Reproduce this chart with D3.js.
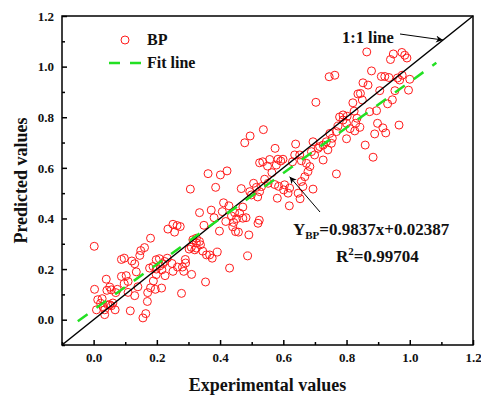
<!DOCTYPE html>
<html>
<head>
<meta charset="utf-8">
<script src="https://cdn.jsdelivr.net/npm/d3@7"></script>
<style>
  body { margin: 0; background: #fff; }
  text { font-family: "Liberation Serif", "DejaVu Serif", serif; font-weight: bold; fill: #111; }
</style>
</head>
<body>
<div id="chart"></div>
<script>
// experimental (x) and predicted (y) values for the BP model
const experimental = [
  0.002, 0.003, 0.009, 0.013, 0.027, 0.022, 0.029, 0.035, 0.035, 0.04,
  0.042, 0.045, 0.051, 0.056, 0.056, 0.061, 0.051, 0.07, 0.075, 0.068,
  0.088, 0.088, 0.097, 0.103, 0.097, 0.109, 0.109, 0.116, 0.121, 0.13,
  0.135, 0.13, 0.14, 0.146, 0.149, 0.161, 0.156, 0.165, 0.17, 0.171,
  0.18, 0.189, 0.195, 0.18, 0.177, 0.188, 0.198, 0.198, 0.208, 0.198,
  0.21, 0.215, 0.216, 0.219, 0.226, 0.225, 0.233, 0.248, 0.235, 0.251,
  0.264, 0.274, 0.256, 0.251, 0.265, 0.281, 0.285, 0.278, 0.29, 0.291,
  0.31, 0.306, 0.302, 0.309, 0.314, 0.325, 0.325, 0.32, 0.338, 0.345,
  0.325, 0.335, 0.357, 0.367, 0.375, 0.391, 0.354, 0.335, 0.349, 0.362,
  0.372, 0.381, 0.386, 0.401, 0.422, 0.398, 0.407, 0.411, 0.418, 0.428,
  0.436, 0.44, 0.443, 0.446, 0.452, 0.449, 0.458, 0.43, 0.467, 0.472,
  0.462, 0.472, 0.482, 0.478, 0.495, 0.491, 0.487, 0.494, 0.506, 0.515,
  0.499, 0.519, 0.525, 0.531, 0.537, 0.525, 0.535, 0.524, 0.52, 0.541,
  0.55, 0.557, 0.564, 0.552, 0.574, 0.573, 0.585, 0.581, 0.578, 0.583,
  0.599, 0.592, 0.604, 0.601, 0.62, 0.615, 0.619, 0.629, 0.636, 0.639,
  0.652, 0.657, 0.673, 0.684, 0.678, 0.668, 0.657, 0.662, 0.647, 0.653,
  0.689, 0.699, 0.694, 0.71, 0.715, 0.703, 0.694, 0.726, 0.726, 0.736,
  0.741, 0.747, 0.755, 0.752, 0.745, 0.763, 0.768, 0.768, 0.773, 0.778,
  0.789, 0.789, 0.802, 0.8, 0.811, 0.826, 0.8, 0.82, 0.836, 0.824,
  0.829, 0.833, 0.842, 0.844, 0.85, 0.852, 0.868, 0.864, 0.873, 0.895,
  0.879, 0.905, 0.91, 0.921, 0.934, 0.859, 0.884, 0.898, 0.915, 0.924,
  0.889, 0.93, 0.945, 0.953, 0.961, 0.976, 0.968, 1.0, 0.996, 0.966,
  0.948, 0.939, 0.975, 0.984, 0.991
];
const predicted = [
  0.29, 0.12, 0.039, 0.079, 0.083, 0.065, 0.052, 0.02, 0.039, 0.16,
  0.116, 0.059, 0.129, 0.118, 0.055, 0.066, 0.059, 0.107, 0.12, 0.039,
  0.171, 0.238, 0.243, 0.174, 0.142, 0.151, 0.108, 0.035, 0.232, 0.221,
  0.189, 0.095, 0.13, 0.254, 0.273, 0.285, 0.007, 0.024, 0.072, 0.107,
  0.126, 0.153, 0.12, 0.322, 0.204, 0.21, 0.2, 0.237, 0.241, 0.178,
  0.213, 0.125, 0.197, 0.221, 0.174, 0.23, 0.243, 0.222, 0.358, 0.377,
  0.372, 0.368, 0.346, 0.191, 0.208, 0.208, 0.191, 0.104, 0.238, 0.224,
  0.179, 0.516, 0.279, 0.286, 0.316, 0.303, 0.283, 0.276, 0.296, 0.271,
  0.322, 0.309, 0.256, 0.256, 0.243, 0.267, 0.149, 0.423, 0.373, 0.577,
  0.433, 0.403, 0.523, 0.572, 0.588, 0.35, 0.427, 0.462, 0.388, 0.45,
  0.41, 0.367, 0.384, 0.423, 0.399, 0.348, 0.346, 0.204, 0.518, 0.445,
  0.421, 0.401, 0.403, 0.699, 0.726, 0.335, 0.252, 0.506, 0.539, 0.523,
  0.493, 0.485, 0.506, 0.526, 0.751, 0.62, 0.624, 0.393, 0.381, 0.555,
  0.607, 0.633, 0.581, 0.539, 0.677, 0.534, 0.527, 0.48, 0.611, 0.634,
  0.634, 0.627, 0.533, 0.513, 0.52, 0.5, 0.45, 0.624, 0.651, 0.694,
  0.651, 0.628, 0.618, 0.605, 0.585, 0.565, 0.546, 0.526, 0.5, 0.478,
  0.664, 0.651, 0.703, 0.677, 0.684, 0.859, 0.516, 0.631, 0.69, 0.703,
  0.671, 0.736, 0.717, 0.697, 0.96, 0.966, 0.743, 0.576, 0.765, 0.801,
  0.809, 0.789, 0.804, 0.776, 0.755, 0.746, 0.715, 0.857, 0.892, 0.824,
  0.776, 0.796, 0.76, 0.894, 0.868, 0.936, 0.927, 1.058, 0.822, 0.826,
  0.983, 0.905, 0.961, 0.961, 0.957, 0.69, 0.642, 0.776, 0.758, 0.738,
  0.734, 0.853, 0.869, 0.905, 0.955, 0.966, 0.947, 0.95, 0.907, 0.769,
  1.05, 1.028, 1.056, 1.045, 1.034
];

// fitted line as drawn (end points) and the 1:1 reference line
const fitLine = [{ x: -0.05, y: -0.006 }, { x: 1.084, y: 1.015 }];
const identityLine = [{ x: -0.1, y: -0.1 }, { x: 1.2, y: 1.2 }];

const majorTicks = [0, 0.2, 0.4, 0.6, 0.8, 1.0, 1.2];
const minorTicks = [-0.1, 0.1, 0.3, 0.5, 0.7, 0.9, 1.1];

const width = 481;
const height = 402;
const margin = { top: 16, right: 8, bottom: 57, left: 62 };

const svg = d3
  .select("#chart")
  .append("svg")
  .attr("width", width)
  .attr("height", height);

const x = d3.scaleLinear().domain([-0.1, 1.2]).range([margin.left, width - margin.right]);
const y = d3.scaleLinear().domain([-0.1, 1.2]).range([height - margin.bottom, margin.top]);

const fmt = d3.format(".1f");

// axes, ticks point inward
svg
  .append("g")
  .attr("transform", `translate(0,${y(-0.1)})`)
  .call(d3.axisBottom(x).tickValues(majorTicks).tickSize(-5).tickPadding(8).tickFormat(fmt));
svg
  .append("g")
  .attr("transform", `translate(0,${y(-0.1)})`)
  .call(d3.axisBottom(x).tickValues(minorTicks).tickSize(-3).tickFormat(""));

svg
  .append("g")
  .attr("transform", `translate(${x(-0.1)},0)`)
  .call(d3.axisLeft(y).tickValues(majorTicks).tickSize(-5).tickPadding(8).tickFormat(fmt));
svg
  .append("g")
  .attr("transform", `translate(${x(-0.1)},0)`)
  .call(d3.axisLeft(y).tickValues(minorTicks).tickSize(-3).tickFormat(""));

svg.selectAll(".domain").remove();
svg.selectAll(".tick line").attr("stroke", "#000").attr("stroke-width", 1.5);
svg.selectAll(".tick text").style("font-size", "13px").attr("fill", "#111");

// frame
svg
  .append("rect")
  .attr("x", x(-0.1))
  .attr("y", y(1.2))
  .attr("width", x(1.2) - x(-0.1))
  .attr("height", y(-0.1) - y(1.2))
  .attr("fill", "none")
  .attr("stroke", "#000")
  .attr("stroke-width", 1.5);

const line = d3.line().x((d) => x(d.x)).y((d) => y(d.y));

// points
svg
  .append("g")
  .selectAll("circle")
  .data(d3.zip(experimental, predicted))
  .enter()
  .append("circle")
  .attr("cx", (d) => x(d[0]))
  .attr("cy", (d) => y(d[1]))
  .attr("r", 4)
  .attr("fill", "none")
  .attr("stroke", "#ff1a1a")
  .attr("stroke-width", 1);

svg
  .append("path")
  .attr("d", line(identityLine))
  .attr("fill", "none")
  .attr("stroke", "#000")
  .attr("stroke-width", 1.5);

svg
  .append("path")
  .attr("d", line(fitLine))
  .attr("fill", "none")
  .attr("stroke", "#22e022")
  .attr("stroke-width", 2.5)
  .attr("stroke-dasharray", "12,11");

// arrow marker
svg
  .append("defs")
  .append("marker")
  .attr("id", "arrow")
  .attr("viewBox", "0 0 10 10")
  .attr("refX", 10)
  .attr("refY", 5)
  .attr("markerWidth", 9)
  .attr("markerHeight", 7)
  .attr("markerUnits", "userSpaceOnUse")
  .attr("orient", "auto")
  .append("path")
  .attr("d", "M0,0L10,5L0,10L3,5Z")
  .attr("fill", "#000");

// 1:1 line label
svg
  .append("text")
  .attr("x", 342)
  .attr("y", 43)
  .style("font-size", "16.5px")
  .text("1:1 line");
svg
  .append("line")
  .attr("x1", 400)
  .attr("y1", 34)
  .attr("x2", x(1.105))
  .attr("y2", y(1.105))
  .attr("stroke", "#000")
  .attr("stroke-width", 1)
  .attr("marker-end", "url(#arrow)");

// fit equation
const eq = svg.append("text").attr("x", 293).attr("y", 235).style("font-size", "17px");
eq.append("tspan").text("Y");
eq.append("tspan").attr("dy", 4).style("font-size", "11px").text("BP");
eq.append("tspan").attr("dy", -4).text("=0.9837x+0.02387");

const r2 = svg.append("text").attr("x", 336).attr("y", 262).style("font-size", "17px");
r2.append("tspan").text("R");
r2.append("tspan").attr("dy", -7).style("font-size", "11px").text("2");
r2.append("tspan").attr("dy", 7).text("=0.99704");

svg
  .append("line")
  .attr("x1", 320)
  .attr("y1", 212)
  .attr("x2", x(0.62))
  .attr("y2", y(0.565))
  .attr("stroke", "#000")
  .attr("stroke-width", 1)
  .attr("marker-end", "url(#arrow)");

// legend
const legend = svg.append("g");
legend
  .append("circle")
  .attr("cx", 125)
  .attr("cy", 40)
  .attr("r", 4)
  .attr("fill", "none")
  .attr("stroke", "#ff1a1a");
legend.append("text").attr("x", 147).attr("y", 45).style("font-size", "16px").text("BP");
legend
  .append("line")
  .attr("x1", 109)
  .attr("x2", 141)
  .attr("y1", 63)
  .attr("y2", 63)
  .attr("stroke", "#22e022")
  .attr("stroke-width", 2.5)
  .attr("stroke-dasharray", "11,10");
legend.append("text").attr("x", 147).attr("y", 68).style("font-size", "16px").text("Fit line");

// axis titles
svg
  .append("text")
  .attr("x", (x(-0.1) + x(1.2)) / 2)
  .attr("y", 391)
  .attr("text-anchor", "middle")
  .style("font-size", "18px")
  .text("Experimental values");
svg
  .append("text")
  .attr("transform", `translate(27,${(y(-0.1) + y(1.2)) / 2}) rotate(-90)`)
  .attr("text-anchor", "middle")
  .style("font-size", "18px")
  .text("Predicted values");
</script>
</body>
</html>
